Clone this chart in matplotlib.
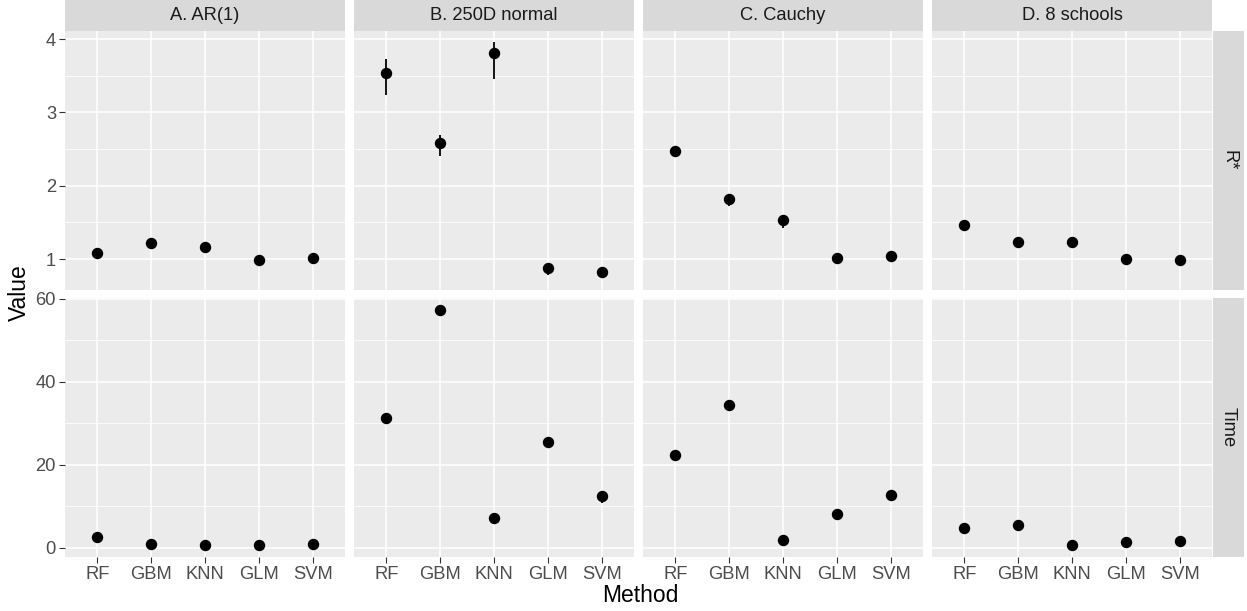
import matplotlib.pyplot as plt
from matplotlib.ticker import MultipleLocator

plt.rcParams["font.family"] = ["Liberation Sans", "DejaVu Sans"]

W, H = 1247, 611

methods = ["RF", "GBM", "KNN", "GLM", "SVM"]
panels = ["A. AR(1)", "B. 250D normal", "C. Cauchy", "D. 8 schools"]
rows = ["R*", "Time"]

# R* values (point, lower, upper)
rstar_mid = [
    [1.09, 1.22, 1.16, 0.99, 1.01],
    [3.54, 2.58, 3.81, 0.88, 0.82],
    [2.47, 1.82, 1.53, 1.02, 1.05],
    [1.46, 1.23, 1.23, 1.00, 0.99],
]
rstar_lo = [
    [1.08, 1.21, 1.15, 0.98, 1.00],
    [3.24, 2.40, 3.45, 0.79, 0.75],
    [2.39, 1.72, 1.43, 1.00, 1.04],
    [1.44, 1.22, 1.22, 0.99, 0.98],
]
rstar_hi = [
    [1.10, 1.23, 1.17, 1.00, 1.02],
    [3.73, 2.69, 3.96, 0.90, 0.84],
    [2.50, 1.85, 1.56, 1.03, 1.06],
    [1.48, 1.24, 1.24, 1.01, 1.00],
]

# Time values
time_mid = [
    [2.5, 1.0, 0.6, 0.6, 0.9],
    [31.4, 57.4, 7.3, 25.6, 12.4],
    [22.4, 34.5, 1.9, 8.2, 12.8],
    [4.8, 5.4, 0.7, 1.4, 1.7],
]
time_lo = [
    [2.3, 0.9, 0.5, 0.5, 0.8],
    [31.0, 57.0, 7.0, 25.2, 10.8],
    [22.0, 34.2, 1.7, 8.0, 12.4],
    [4.6, 5.2, 0.6, 1.3, 1.6],
]
time_hi = [
    [2.7, 1.1, 0.7, 0.7, 1.0],
    [31.8, 57.8, 7.6, 26.0, 12.8],
    [22.8, 34.8, 2.1, 8.4, 13.2],
    [5.0, 5.6, 0.8, 1.5, 1.8],
]

col_left = [65, 354, 643, 932]
col_w = 280
row_top = [31, 298]
row_h = 259

data = [(rstar_mid, rstar_lo, rstar_hi), (time_mid, time_lo, time_hi)]
ylims = [(0.58, 4.11), (-2.2, 60.2)]
major = [1, 20]
minor = [0.5, 10]

fig = plt.figure(figsize=(W / 100, H / 100), dpi=100)


def box(x, y, w, h):
    return [x / W, 1 - (y + h) / H, w / W, h / H]


for r in range(2):
    mid, lo, hi = data[r]
    for c in range(4):
        ax = fig.add_axes(box(col_left[c], row_top[r], col_w, row_h))
        ax.set_facecolor("#EBEBEB")
        for s in ax.spines.values():
            s.set_visible(False)
        x = list(range(1, 6))
        ax.vlines(x, lo[c], hi[c], color="black", lw=1.3, zorder=3)
        ax.plot(x, mid[c], "o", color="black", ms=7.2, zorder=4)
        ax.set_xlim(0.4, 5.6)
        ax.set_ylim(*ylims[r])
        ax.yaxis.set_major_locator(MultipleLocator(major[r]))
        ax.yaxis.set_minor_locator(MultipleLocator(minor[r]))
        ax.set_xticks(x)
        ax.grid(True, which="major", color="white", lw=1.1)
        ax.grid(True, which="minor", axis="y", color="white", lw=0.55)
        ax.set_axisbelow(True)
        ax.tick_params(which="minor", length=0)
        ax.tick_params(which="major", length=4, width=0.8, color="#333333",
                       labelcolor="#4D4D4D", labelsize=13.2, pad=2.5)
        if r == 0:
            ax.set_xticklabels([])
            ax.tick_params(axis="x", length=0)
        else:
            ax.set_xticklabels(methods)
        if c > 0:
            ax.set_yticklabels([])
            ax.tick_params(axis="y", length=0)
        if r == 0:
            sax = fig.add_axes(box(col_left[c], 0, col_w, 31))
            sax.set_facecolor("#D9D9D9")
            sax.set_xticks([])
            sax.set_yticks([])
            for s in sax.spines.values():
                s.set_visible(False)
            sax.text(0.5, 0.5, panels[c], ha="center", va="center",
                     fontsize=13.2, color="#1A1A1A", transform=sax.transAxes)
    rax = fig.add_axes(box(1213, row_top[r], 31, row_h))
    rax.set_facecolor("#D9D9D9")
    rax.set_xticks([])
    rax.set_yticks([])
    for s in rax.spines.values():
        s.set_visible(False)
    rax.text(0.5, 0.5, rows[r], ha="center", va="center", rotation=-90,
             fontsize=13.2, color="#1A1A1A", transform=rax.transAxes)

fig.text(640 / W, 1 - 596 / H, "Method", ha="center", va="center", fontsize=16.5)
fig.text(19.5 / W, 1 - 293 / H, "Value", ha="center", va="center",
         rotation=90, fontsize=16.5)

fig.savefig("out.png", dpi=100)
